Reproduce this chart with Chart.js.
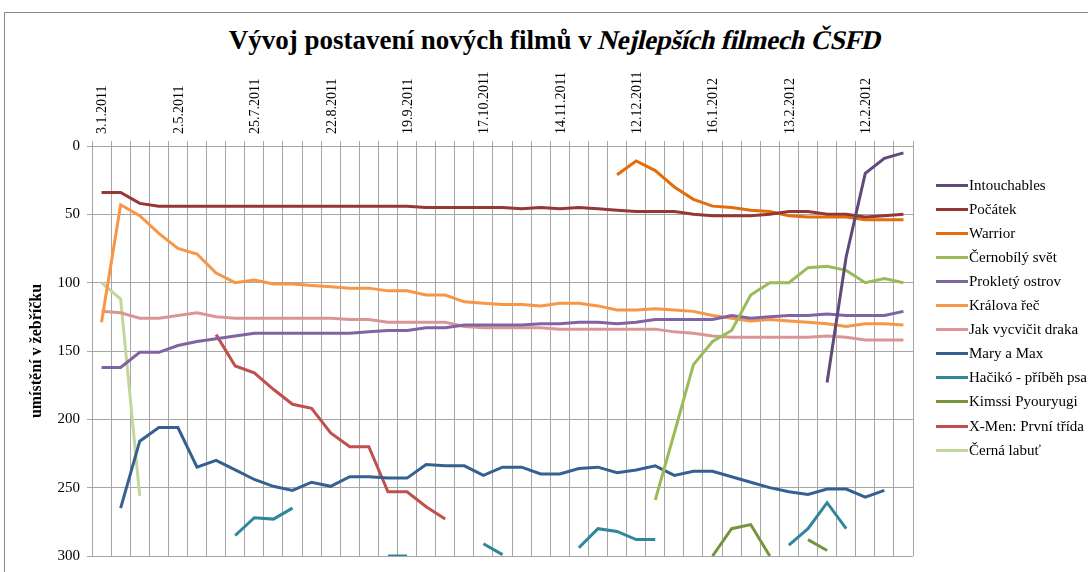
<!DOCTYPE html>
<html>
<head>
<meta charset="utf-8">
<script src="https://cdn.jsdelivr.net/npm/chart.js@4"></script>
<style>
  html, body { margin: 0; padding: 0; background: #fff; overflow: hidden; }
  body { width: 1088px; height: 572px; position: relative; font-family: "Liberation Serif", "Times New Roman", serif; }
  #frame { position: absolute; left: 4px; top: 12px; width: 1200px; height: 700px; border: 1px solid #8a8a8a; box-sizing: border-box; }
  #title { position: absolute; left: 0; width: 1110px; top: 27px; text-align: center; font-family: "Liberation Serif", "Times New Roman", serif; font-size: 27px; line-height: 27px; font-weight: bold; color: #000; white-space: nowrap; }
  #title .it { display: inline-block; font-family: "Liberation Serif", "Times New Roman", serif; font-style: normal; font-weight: bold; transform: skewX(-13deg); letter-spacing: -0.3px; }
  #chart { position: absolute; left: 0; top: 0; }
  #legend { position: absolute; left: 936px; top: 0; width: 152px; height: 572px; }
  .item { position: absolute; left: 0; height: 24px; display: flex; align-items: center; font-family: "Liberation Serif", "Times New Roman", serif; font-size: 15px; color: #000; white-space: nowrap; }
  .swatch { width: 32px; height: 3px; margin-right: 1px; }
</style>
</head>
<body>
<div id="frame"></div>
<div id="title">Vývoj postavení nových filmů v <span class="it">Nejlepších filmech ČSFD</span></div>
<canvas id="chart" width="1088" height="572"></canvas>
<div id="legend"></div>
<script>
// ---- data ----
const tickLabels = ['3.1.2011','2.5.2011','25.7.2011','22.8.2011','19.9.2011','17.10.2011','14.11.2011','12.12.2011','16.1.2012','13.2.2012','12.2.2012'];
const weekCount = 43;
const categories = Array.from({length: weekCount}, (_, i) => (i % 4 === 0 && tickLabels[i / 4]) ? tickLabels[i / 4] : '');

const N = null;
const intouchables = [N,N,N,N,N,N,N,N,N,N, N,N,N,N,N,N,N,N,N,N, N,N,N,N,N,N,N,N,N,N, N,N,N,N,N,N,N,N,173,81, 20,9,5];
const pocatek      = [34,34,42,44,44,44,44,44,44,44, 44,44,44,44,44,44,44,45,45,45, 45,45,46,45,46,45,46,47,48,48, 48,50,51,51,51,50,48,48,50,50, 52,51,50];
const warrior      = [N,N,N,N,N,N,N,N,N,N, N,N,N,N,N,N,N,N,N,N, N,N,N,N,N,N,N,21,11,18, 30,39,44,45,47,48,51,52,52,52, 54,54,54];
const cernobily    = [N,N,N,N,N,N,N,N,N,N, N,N,N,N,N,N,N,N,N,N, N,N,N,N,N,N,N,N,N,259, 210,160,143,135,109,100,100,89,88,91, 100,97,100];
const proklety     = [162,162,151,151,146,143,141,139,137,137, 137,137,137,137,136,135,135,133,133,131, 131,131,131,130,130,129,129,130,129,127, 127,127,127,124,126,125,124,124,123,124, 124,124,121];
const kralovaRec   = [129,43,51,64,75,79,93,100,98,101, 101,102,103,104,104,106,106,109,109,114, 115,116,116,117,115,115,117,120,120,119, 120,121,124,126,128,127,128,129,130,132, 130,130,131];
const jakDraka     = [121,122,126,126,124,122,125,126,126,126, 126,126,126,127,127,129,129,129,129,132, 133,133,133,133,134,134,134,134,134,134, 136,137,139,140,140,140,140,140,139,140, 142,142,142];
const maryMax      = [N,265,216,206,206,235,230,237,244,249, 252,246,249,242,242,243,243,233,234,234, 241,235,235,240,240,236,235,239,237,234, 241,238,238,242,246,250,253,255,251,251, 257,252,N];
const haciko       = [N,N,N,N,N,N,N,285,272,273, 265,N,N,N,N,300,300,N,N,N, 291,299,N,N,N,294,280,282,288,288, N,N,N,N,N,N,292,280,261,280, N,N,N];
const kimssi       = [N,N,N,N,N,N,N,N,N,N, N,N,N,N,N,N,N,N,N,N, N,N,N,N,N,N,N,N,N,N, N,N,300,280,277,300,N,288,296,N, N,N,N];
const xmen         = [N,N,N,N,N,N,138,161,166,178, 189,192,210,220,220,253,253,264,273,N, N,N,N,N,N,N,N,N,N,N, N,N,N,N,N,N,N,N,N,N, N,N,N];
const cernaLabut   = [100,112,256,N,N,N,N,N,N,N, N,N,N,N,N,N,N,N,N,N, N,N,N,N,N,N,N,N,N,N, N,N,N,N,N,N,N,N,N,N, N,N,N];

const seriesNames  = ['Intouchables','Počátek','Warrior','Černobílý svět','Prokletý ostrov','Králova řeč','Jak vycvičit draka','Mary a Max','Hačikó - příběh psa','Kimssi Pyouryugi','X-Men: První třída','Černá labuť'];
const seriesValues = [intouchables, pocatek, warrior, cernobily, proklety, kralovaRec, jakDraka, maryMax, haciko, kimssi, xmen, cernaLabut];
const seriesColors = ['#604A7B','#953735','#E46C0A','#9BBB59','#8064A2','#F79646','#D99694','#376092','#31859C','#77933C','#C0504D','#C3D69B'];

const yTicks = [0, 50, 100, 150, 200, 250, 300];

// ---- chart ----
Chart.defaults.font.family = '"Liberation Serif", "Times New Roman", serif';
Chart.defaults.color = '#000';

const datasets = seriesNames.map((name, i) => ({
  label: name,
  data: seriesValues[i],
  borderColor: seriesColors[i],
  backgroundColor: seriesColors[i],
  borderWidth: 3,
  pointRadius: 0,
  pointHoverRadius: 0,
  tension: 0,
  spanGaps: false,
  fill: false
}));

const gridColor = '#a6a6a6';

new Chart(document.getElementById('chart'), {
  type: 'line',
  data: { labels: categories, datasets },
  options: {
    responsive: false,
    animation: false,
    devicePixelRatio: 1,
    layout: { padding: { left: 0, top: 0, right: 175, bottom: 9.5 } },
    plugins: { legend: { display: false }, title: { display: false }, tooltip: { enabled: false } },
    scales: {
      x: {
        position: 'top',
        offset: true,
        grid: { offset: true, color: gridColor, lineWidth: 1, drawTicks: true, tickLength: 5, tickColor: gridColor },
        border: { color: gridColor },
        ticks: {
          autoSkip: false, minRotation: 90, maxRotation: 90, padding: 7, labelOffset: 18,
          font: { size: 14 }, color: '#000'
        },
        afterFit: s => { s.height = 146; }
      },
      y: {
        reverse: true,
        min: yTicks[0], max: yTicks[yTicks.length - 1],
        afterBuildTicks: s => { s.ticks = yTicks.map(v => ({ value: v })); },
        grid: { color: gridColor, lineWidth: 1, tickLength: 5, tickColor: gridColor },
        border: { color: gridColor },
        ticks: { padding: 7, font: { size: 15 }, color: '#000' },
        title: {
          display: true, text: 'umístění v žebříčku',
          font: { size: 16, weight: 'bold' }, color: '#000',
          padding: { top: 27, bottom: 0 }
        },
        afterFit: s => { s.width = 92; }
      }
    }
  }
});

// ---- legend ----
const legend = document.getElementById('legend');
seriesNames.forEach((name, i) => {
  const it = document.createElement('div');
  it.className = 'item';
  it.style.top = (185 + i * 24.1 - 12) + 'px';
  const sw = document.createElement('span');
  sw.className = 'swatch';
  sw.style.background = seriesColors[i];
  const tx = document.createElement('span');
  tx.textContent = name;
  it.appendChild(sw); it.appendChild(tx);
  legend.appendChild(it);
});
</script>
</body>
</html>
